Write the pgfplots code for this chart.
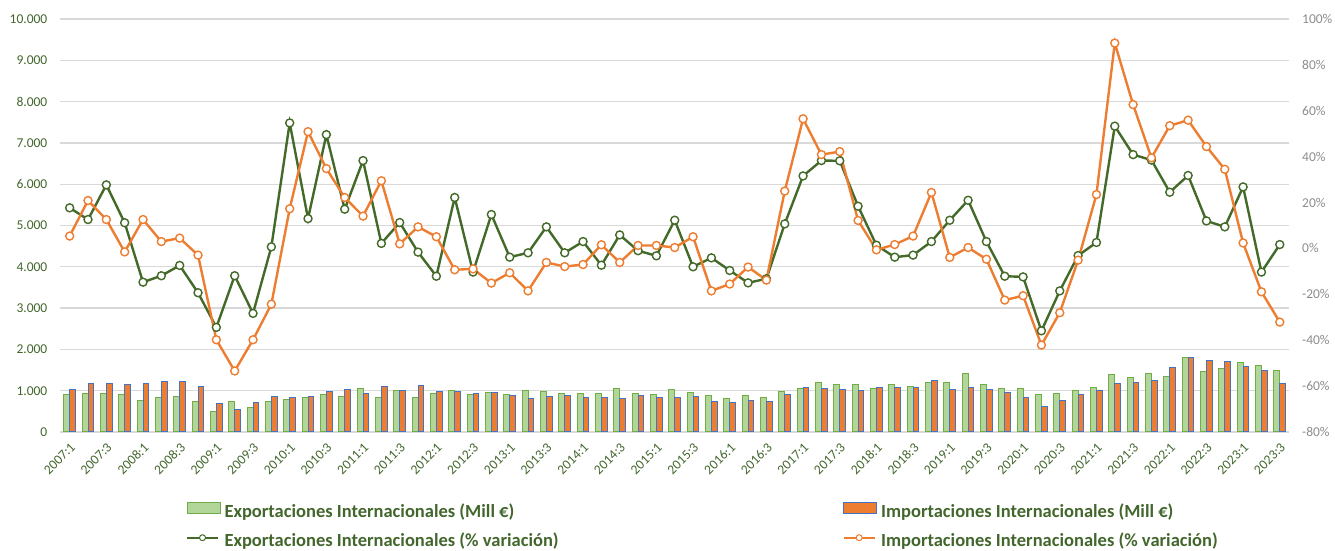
\documentclass[border=0pt]{standalone}
\usepackage{pgfplots}
\pgfplotsset{compat=1.18}
\usepackage{pgfplotstable}
\usepackage{fontspec}
\setmainfont{Carlito}
\definecolor{dgreen}{HTML}{436A28}
\definecolor{txtgreen}{HTML}{42662C}
\definecolor{lgreen}{HTML}{B2D59A}
\definecolor{bgreen}{HTML}{70AD47}
\definecolor{orng}{HTML}{ED7D31}
\definecolor{blu}{HTML}{4472C4}
\definecolor{gridc}{HTML}{D9D9D9}
\definecolor{graytxt}{HTML}{8C8C8C}

\pgfplotsset{
  mylinelegend/.style={legend image code/.code={\draw[mark repeat=2,mark phase=2,##1, line width=2pt, mark size=3pt, mark options={fill=white, line width=1pt}] plot coordinates {(0pt,4.8pt)(15.5pt,4.8pt)(31pt,4.8pt)};}},
}

\pgfplotstableread{
i expM impM expP impP
0 911 1032 17.7 5.4
1 935 1185 12.6 20.9
2 935 1185 27.7 12.6
3 911 1161 11.2 -1.5
4 758 1185 -14.7 12.6
5 839 1234 -11.9 3.0
6 863 1234 -7.4 4.5
7 734 1113 -19.3 -2.9
8 500 702 -34.4 -39.8
9 734 548 -11.9 -53.4
10 605 726 -28.3 -39.8
11 734 863 0.7 -24.3
12 782 839 54.7 17.3
13 831 863 13.0 50.9
14 911 984 49.6 34.8
15 863 1032 17.1 22.2
16 1056 935 38.3 14.1
17 839 1113 2.2 29.5
18 1008 1008 11.3 2.0
19 839 1137 -1.6 9.4
20 935 984 -12.1 5.1
21 1008 984 22.2 -9.3
22 911 935 -10.3 -8.9
23 960 960 14.8 -15.1
24 911 887 -3.8 -10.6
25 1008 806 -1.9 -18.5
26 984 863 9.4 -6.1
27 935 887 -1.9 -7.9
28 935 839 3.0 -7.0
29 935 839 -7.3 1.6
30 1056 806 5.9 -6.1
31 935 887 -1.0 1.3
32 911 831 -3.2 1.3
33 1032 831 12.3 0.4
34 960 863 -8.0 5.1
35 887 734 -4.1 -18.5
36 806 710 -9.6 -15.5
37 887 758 -15.0 -8.1
38 831 734 -13.2 -13.8
39 984 911 10.7 25.0
40 1056 1081 31.6 56.5
41 1210 1056 38.3 40.9
42 1161 1032 38.2 42.2
43 1161 1008 18.4 12.2
44 1056 1081 1.4 -0.6
45 1161 1081 -3.8 1.7
46 1113 1081 -2.9 5.4
47 1210 1258 3.0 24.4
48 1210 1032 12.3 -3.9
49 1411 1081 21.0 0.4
50 1161 1032 3.0 -4.7
51 1056 960 -12.1 -22.5
52 1056 831 -12.4 -20.6
53 903 629 -35.9 -42.1
54 927 758 -18.5 -28.0
55 1008 903 -3.1 -5.1
56 1081 1008 2.6 23.5
57 1387 1185 53.3 89.5
58 1315 1210 40.9 62.7
59 1411 1258 38.5 39.5
60 1339 1565 24.5 53.5
61 1815 1815 31.8 55.9
62 1468 1742 12.0 44.4
63 1540 1710 9.4 34.5
64 1685 1589 26.8 2.4
65 1613 1492 -10.3 -18.9
66 1492 1185 1.7 -32.1
}\data

\newcommand{\tickfont}{\fontsize{13.5}{16}\selectfont}

\begin{document}
\begin{tikzpicture}
\useasboundingbox (-60.5pt,-119pt) rectangle (1274.5pt,432pt);
\begin{axis}[
  at={(0pt,0pt)}, anchor=south west,
  scale only axis, width=1228.5pt, height=413pt,
  xmin=-0.5, xmax=66.5, ymin=0, ymax=10000,
  scaled y ticks=false,
  ybar=0pt, bar width=5.8pt,
  axis line style={draw=none},
  ytick={0,1000,...,10000},
  yticklabels={0,1.000,2.000,3.000,4.000,5.000,6.000,7.000,8.000,9.000,10.000},
  ymajorgrids, major grid style={gridc, line width=1.3pt},
  major tick length=0pt,
  xtick={0,2,...,66},
  xticklabels={2007:1,2007:3,2008:1,2008:3,2009:1,2009:3,2010:1,2010:3,2011:1,2011:3,2012:1,2012:3,2013:1,2013:3,2014:1,2014:3,2015:1,2015:3,2016:1,2016:3,2017:1,2017:3,2018:1,2018:3,2019:1,2019:3,2020:1,2020:3,2021:1,2021:3,2022:1,2022:3,2023:1,2023:3},
  x tick label style={font=\tickfont, text=txtgreen, rotate=45, anchor=north east, inner sep=0pt, xshift=-7pt, yshift=-7pt},
  y tick label style={inner sep=0pt, xshift=-13pt, font=\tickfont, text=txtgreen},
]
\addplot[fill=lgreen, draw=bgreen, line width=1pt] table[x=i,y=expM]{\data};
\addplot[fill=orng, draw=blu, line width=1pt] table[x=i,y=impM]{\data};
\end{axis}
\begin{axis}[
  at={(0pt,0pt)}, anchor=south west,
  scale only axis, width=1228.5pt, height=413pt,
  xmin=-0.5, xmax=66.5, ymin=-80, ymax=100,
  axis y line*=right,
  axis line style={draw=none},
  xtick=\empty,
  ytick={-80,-60,...,100},
  yticklabels={-80\%,-60\%,-40\%,-20\%,0\%,20\%,40\%,60\%,80\%,100\%},
  y tick label style={inner sep=0pt, xshift=13pt, font=\tickfont, text=graytxt},
  major tick length=0pt,
  legend columns=2,
  legend cell align=left,
  legend style={at={(0.102,-0.2288)}, anchor=west, draw=none, fill=none,
    inner sep=0pt, row sep=13pt,
    nodes={inner sep=0pt, text height=12.5pt, text depth=3.5pt, font=\fontsize{18.5}{21}\selectfont\bfseries, text=txtgreen},
    /tikz/every odd column/.append style={column sep=4pt},
    /tikz/column 2/.append style={column sep=284pt}},
]
\addlegendimage{legend image code/.code={\draw[fill=lgreen,draw=bgreen,line width=1pt] (0pt,-0.5pt) rectangle (33pt,10.5pt);}}
\addlegendentry{Exportaciones Internacionales (Mill €)}
\addlegendimage{legend image code/.code={\draw[fill=orng,draw=blu,line width=1pt] (0pt,-0.5pt) rectangle (33pt,10.5pt);}}
\addlegendentry{Importaciones Internacionales (Mill €)}
\addplot[dgreen, line width=2.4pt, mark=*, mark size=4pt, mark options={fill=white, draw=dgreen, line width=1.4pt, solid}, mylinelegend]
  table[x=i,y=expP]{\data};
\addlegendentry{Exportaciones Internacionales (\% variación)}
\addplot[orng, line width=2.4pt, mark=*, mark size=4pt, mark options={fill=white, draw=orng, line width=1.4pt, solid}, mylinelegend]
  table[x=i,y=impP]{\data};
\addlegendentry{Importaciones Internacionales (\% variación)}
\end{axis}
\end{tikzpicture}
\end{document}
